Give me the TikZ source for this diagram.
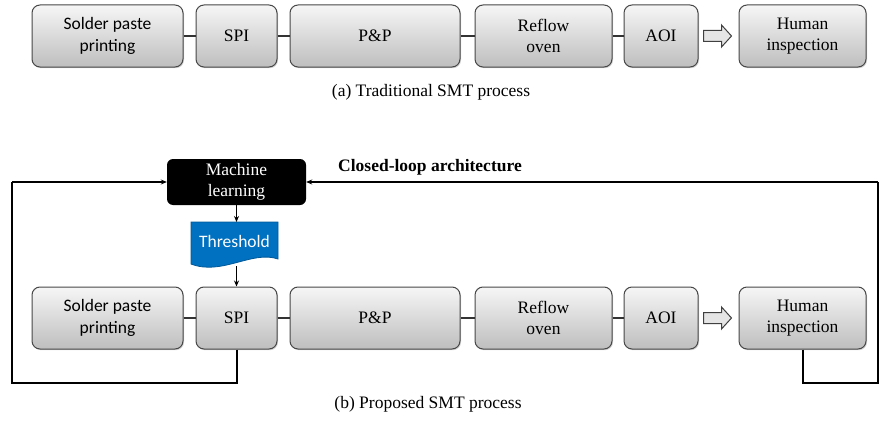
\documentclass[tikz,border=0pt]{standalone}
\usepackage{fontspec}
\setmainfont{Liberation Serif}
\newfontfamily\seriffont{Liberation Serif}
\newfontfamily\calibfont{Carlito}
\usetikzlibrary{arrows.meta,shadows}
\definecolor{boxtop}{RGB}{246,246,246}
\definecolor{boxbot}{RGB}{190,190,190}
\definecolor{thblue}{RGB}{0,112,192}
\begin{document}
\begin{tikzpicture}[x=1pt,y=-1pt,
  txt/.style={font=\seriffont\fontsize{17.5}{21.5}\selectfont},
  proc/.style={txt, draw=black!72, line width=1pt, rounded corners=8pt,
    top color=boxtop, bottom color=boxbot, minimum height=62pt, inner sep=0pt,
    align=center, drop shadow={shadow xshift=1pt, shadow yshift=-1.2pt, opacity=0.35}},
  sans/.style={font=\calibfont\fontsize{17.5}{21.5}\selectfont},
  conn/.style={draw=black!80, line width=1.4pt},
  loopline/.style={draw=black, line width=2pt},
  arr/.style={draw=black, line width=1pt, -{Stealth[length=6pt,width=5pt]}},
  blockarr/.style={draw=black!75, line width=1pt, fill=black!10, line join=miter},
  caption/.style={txt}]
\useasboundingbox (0,0) rectangle (880,420);

% ---------- (a) traditional ----------
\node[proc, sans, minimum width=151pt] (a1) at (107.5,36) {Solder paste\\printing};
\node[proc, minimum width=81pt]  (a2) at (236.5,36) {SPI};
\node[proc, minimum width=170pt] (a3) at (375,36) {P\&P};
\node[proc, minimum width=137pt] (a4) at (543.5,36) {Reflow\\oven};
\node[proc, minimum width=74pt]  (a5) at (661,36) {AOI};
\node[proc, minimum width=127pt] (a6) at (802.5,36) {Human\\inspection};
\draw[conn] (a1) -- (a2);
\draw[conn] (a2) -- (a3);
\draw[conn] (a3) -- (a4);
\draw[conn] (a4) -- (a5);
\draw[blockarr] (703.5,30.5) -- (721.5,30.5) -- (721.5,25) -- (731.5,36) -- (721.5,47) -- (721.5,41.5) -- (703.5,41.5) -- cycle;
\node[caption] (capa) at (431,92) {(a) Traditional SMT process};

% ---------- (b) proposed ----------
\node[proc, sans, minimum width=151pt] (b1) at (107.5,318) {Solder paste\\printing};
\node[proc, minimum width=81pt]  (b2) at (236.5,318) {SPI};
\node[proc, minimum width=170pt] (b3) at (375,318) {P\&P};
\node[proc, minimum width=137pt] (b4) at (543.5,318) {Reflow\\oven};
\node[proc, minimum width=74pt]  (b5) at (661,318) {AOI};
\node[proc, minimum width=127pt] (b6) at (802.5,318) {Human\\inspection};
\draw[conn] (b1) -- (b2);
\draw[conn] (b2) -- (b3);
\draw[conn] (b3) -- (b4);
\draw[conn] (b4) -- (b5);
\draw[blockarr] (703.5,312.5) -- (721.5,312.5) -- (721.5,307) -- (731.5,318) -- (721.5,329) -- (721.5,323.5) -- (703.5,323.5) -- cycle;

% machine learning
\node[txt, fill=black, text=white, rounded corners=6pt, minimum width=139pt,
  minimum height=46pt, inner sep=0pt, align=center] (ml) at (236.5,182) {Machine\\learning};

% threshold (document shape)
\draw[draw=thblue!80!black, line width=0.8pt, fill=thblue]
  (191,222) -- (278,222) -- (278,259)
  .. controls (252,250) and (222,276) .. (191,264) -- cycle;
\node[sans, text=white, inner sep=0pt] (th) at (234.5,241) {Threshold};
\coordinate (thtop) at (236.5,222);
\coordinate (thbot) at (236.5,266);
\draw[arr] (ml.south) -- (thtop);
\draw[arr] (thbot) -- (b2.north);

% closed loop
\coordinate (lbl) at (12,383);
\coordinate (ltl) at (12,182);
\coordinate (rbr) at (878,383);
\coordinate (rtr) at (878,182);
\draw[loopline] (b2.south) -- (b2.south |- lbl) -- (lbl) -- (ltl);
\draw[arr, line width=2pt] (ltl) -- (ml.west);
\draw[loopline] (b6.south) -- (b6.south |- rbr) -- (rbr) -- (rtr);
\draw[arr, line width=2pt] (rtr) -- (ml.east);
\node[font=\seriffont\fontsize{17.5}{21.5}\selectfont\bfseries] (cl) at (430,167) {Closed-loop architecture};

\node[caption] (capb) at (428,404) {(b) Proposed SMT process};
\end{tikzpicture}
\end{document}
